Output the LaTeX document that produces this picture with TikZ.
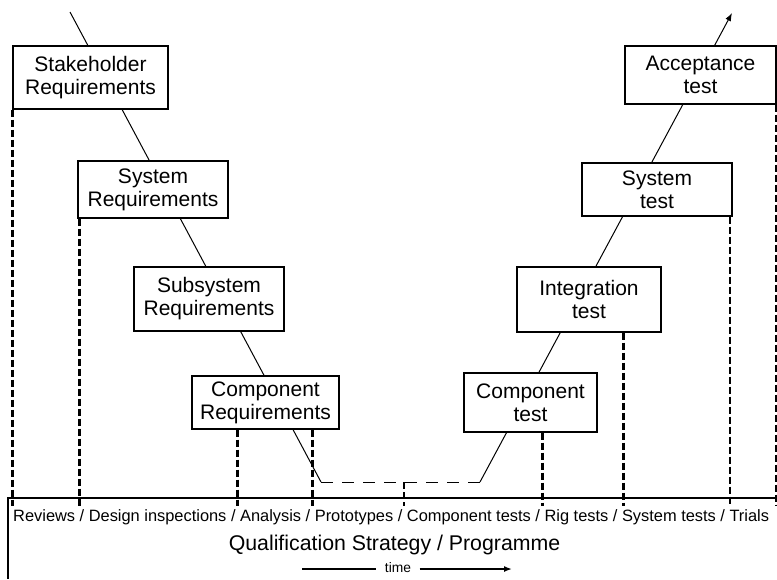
\documentclass[tikz,border=0pt]{standalone}
\usepackage{fontspec}
\setmainfont{Liberation Sans}
\usetikzlibrary{arrows.meta}
\begin{document}
\begin{tikzpicture}[x=1pt,y=-1pt,
  box/.style={draw,line width=1.2pt,fill=white,align=center,inner sep=0pt,
    font=\fontsize{21}{23}\selectfont},
  conn/.style={line width=1pt},
  vdash/.style={line width=2.2pt,dash pattern=on 7pt off 3pt},
  tip/.style={-{Latex[length=8pt,width=6pt]}}
]
\useasboundingbox (0,0) rectangle (777,579);
% V-shaped process line (runs behind the white boxes)
\coordinate (vtop) at (70,12);
\coordinate (vbot) at (321,482);
\coordinate (wbot) at (480,482);
\coordinate (wtop) at (732,13);
\coordinate (dend) at (0,506);
\coordinate (mid) at (404,482);
\draw[conn] (vtop) -- (vbot);
\draw[conn,dash pattern=on 12pt off 9pt] (vbot) -- (wbot);
\draw[conn,tip] (wbot) -- (wtop);

% boxes
\node[box,minimum width=155pt,minimum height=63pt] (stake) at (90.5,77.5) {Stakeholder\\Requirements};
\node[box,minimum width=150pt,minimum height=57pt] (sysreq) at (153,189.5) {System\\Requirements};
\node[box,minimum width=150pt,minimum height=64pt] (subsys) at (209,299) {Subsystem\\Requirements};
\node[box,minimum width=147pt,minimum height=53pt] (compreq) at (265.5,402.5) {Component\\Requirements};
\node[box,minimum width=133pt,minimum height=59pt] (comptest) at (530.5,402.5) {Component\\test};
\node[box,minimum width=144pt,minimum height=65pt] (integ) at (589,299.5) {Integration\\test};
\node[box,minimum width=150pt,minimum height=53pt] (systest) at (657,189.5) {System\\test};
\node[box,minimum width=151pt,minimum height=58pt] (accept) at (700.5,75) {Acceptance\\test};

% baseline of the qualification strip
\coordinate (hl) at (8,498);
\coordinate (hr) at (777,498);
\coordinate (hb) at (8,579);
\draw[line width=1.3pt] (hr) -- (hl) -- (hb);

% dashed verticals
\draw[vdash] (stake.south west) -- (stake.south west |- dend);
\draw[vdash] ([xshift=2pt]sysreq.south west) -- ([xshift=2pt]sysreq.south west |- dend);
\draw[vdash] ([xshift=46pt]compreq.south west) -- ([xshift=46pt]compreq.south west |- dend);
\draw[vdash] ([xshift=121pt]compreq.south west) -- ([xshift=121pt]compreq.south west |- dend);
\draw[vdash] (mid) -- (mid |- dend);
\draw[vdash] ([xshift=79pt]comptest.south west) -- ([xshift=79pt]comptest.south west |- dend);
\draw[vdash] ([xshift=107pt]integ.south west) -- ([xshift=107pt]integ.south west |- dend);
\draw[vdash] ([xshift=-3pt]systest.south east) -- ([xshift=-3pt]systest.south east |- dend);
\draw[vdash] ([xshift=-0.5pt]accept.south east) -- ([xshift=-0.5pt]accept.south east |- dend);

% texts
\node[anchor=base west,inner sep=0pt,font=\fontsize{16.4}{18}\selectfont] (methods) at (13,521)
  {Reviews / Design inspections / Analysis / Prototypes / Component tests / Rig tests / System tests / Trials};
\node[anchor=base,inner sep=0pt,font=\fontsize{21.3}{24}\selectfont] (qual) at (394.5,550)
  {Qualification Strategy / Programme};
\node[anchor=base,inner ysep=0pt,inner xsep=8.5pt,font=\fontsize{13.8}{15}\selectfont] (time) at (398,572) {time};
\coordinate (tl) at (302,569);
\coordinate (tr) at (512,569);
\draw[line width=1.5pt] (tl) -- (time.west |- tl);
\draw[line width=1.5pt,tip] (time.east |- tr) -- (tr);
\end{tikzpicture}
\end{document}
